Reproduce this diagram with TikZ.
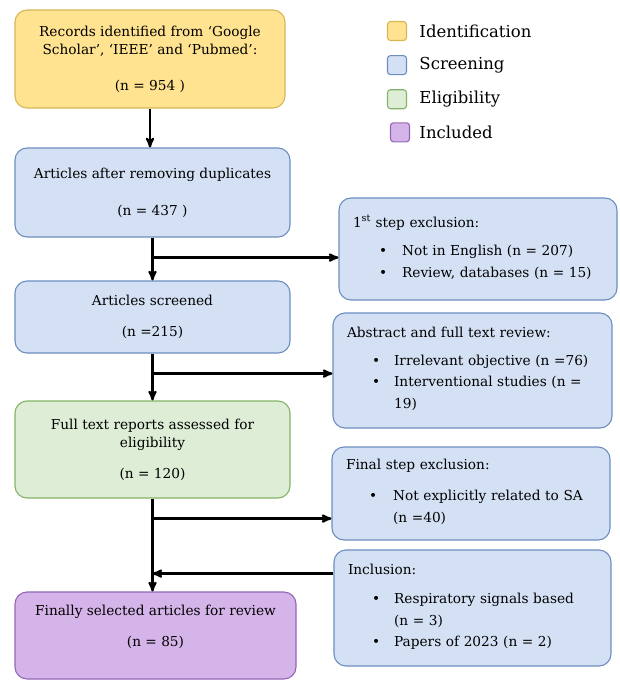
\documentclass[tikz,border=0pt]{standalone}
\usepackage{fontspec}
\setmainfont{DejaVu Serif}
\usepackage{tikz}
\usetikzlibrary{positioning}
\usetikzlibrary{arrows}
\usetikzlibrary{calc}

\definecolor{idfill}{HTML}{FFE390}
\definecolor{iddraw}{HTML}{D6B656}
\definecolor{scfill}{HTML}{D4E1F5}
\definecolor{scdraw}{HTML}{6C8EBF}
\definecolor{elfill}{HTML}{DDEDD6}
\definecolor{eldraw}{HTML}{82B366}
\definecolor{infill}{HTML}{D5B4EA}
\definecolor{indraw}{HTML}{9467B5}

\newcommand{\bul}{\textbullet}

\begin{document}
\begin{tikzpicture}[x=1pt,y=-1pt,>=stealth',line width=2.2pt,
	box/.style={rounded corners=12pt,line width=1.1pt,align=center,inner sep=4pt,font=\rmfamily\fontsize{13.7}{18}\selectfont},
	side/.style={box,align=left,inner xsep=14pt,text width=#1},
	key/.style={rounded corners=3pt,line width=1.1pt,minimum size=19pt,inner sep=0pt},
	keytext/.style={anchor=west,font=\rmfamily\fontsize{16.5}{18}\selectfont},
	arr/.style={->,line width=2.2pt}]
	
	\useasboundingbox (0,0) rectangle (619,680);
	
	% main column
	\node[box,fill=idfill,draw=iddraw,minimum width=270pt,minimum height=98pt] (ident) at (150,59)
	{Records identified from `Google\\Scholar', `IEEE' and `Pubmed':\\[18pt](n = 954 )};
	\node[box,fill=scfill,draw=scdraw,minimum width=275pt,minimum height=89pt] (scr1) at (152.5,192.5)
	{Articles after removing duplicates\\[19pt](n = 437 )};
	\node[box,fill=scfill,draw=scdraw,minimum width=275pt,minimum height=72pt] (scr2) at (152.5,317)
	{Articles screened\\[13pt](n =215)};
	\node[box,fill=elfill,draw=eldraw,minimum width=275pt,minimum height=97pt] (elig) at (152.5,449.5)
	{Full text reports assessed for\\eligibility\\[13pt](n = 120)};
	\node[box,fill=infill,draw=indraw,minimum width=281pt,minimum height=87pt] (incl) at (155.5,635.5)
	{Finally selected articles for review\\[13pt](n = 85)\\[2pt]};
	
	% side boxes
	\node[side=250pt,fill=scfill,draw=scdraw,minimum height=102pt] (ex1) at (478,249)
	{1\textsuperscript{st} step exclusion:\\[12pt]
	\begin{tabular}{@{\hspace{26pt}}c@{\hspace{15pt}}l@{}}
	\bul & Not in English (n = 207)\\[3.5pt]
	\bul & Review, databases (n = 15)
	\end{tabular}};
	\node[side=251pt,fill=scfill,draw=scdraw,minimum height=115pt] (ex2) at (472.5,370.5)
	{Abstract and full text review:\\[14pt]
	\begin{tabular}{@{\hspace{25pt}}c@{\hspace{14pt}}l@{}}
	\bul & Irrelevant objective (n =76)\\[3.5pt]
	\bul & Interventional studies (n =\\[3.5pt]
	& 19)
	\end{tabular}\\[-4pt]};
	\node[side=250pt,fill=scfill,draw=scdraw,minimum height=93pt] (ex3) at (471,493.5)
	{Final step exclusion:\\[15pt]
	\begin{tabular}{@{\hspace{23pt}}c@{\hspace{16pt}}l@{}}
	\bul & Not explicitly related to SA\\[3.5pt]
	& (n =40)
	\end{tabular}};
	\node[side=249pt,fill=scfill,draw=scdraw,minimum height=116pt] (inc) at (472.5,608)
	{Inclusion:\\[16pt]
	\begin{tabular}{@{\hspace{24pt}}c@{\hspace{14pt}}l@{}}
	\bul & Respiratory signals based\\[3.5pt]
	& (n = 3)\\[3.5pt]
	\bul & Papers of 2023 (n = 2)
	\end{tabular}};
	
	% legend
	\node[key,fill=idfill,draw=iddraw] (k1) at (397,31) {};
	\node[key,fill=scfill,draw=scdraw] (k2) [below=14pt of k1] {};
	\node[key,fill=elfill,draw=eldraw] (k3) [below=14pt of k2] {};
	\node[key,fill=infill,draw=indraw] (k4) [below=13pt of k3,xshift=3pt] {};
	\node[keytext] (t1) at ($(k1.east)+(8,0)$) {Identification};
	\node[keytext] (t2) at ($(k2.east)+(8,0)$) {Screening};
	\node[keytext] (t3) at ($(k3.east)+(8,0)$) {Eligibility};
	\node[keytext] (t4) at ($(k4.east)+(5,0)$) {Included};
	
	% connectors
	\coordinate (b1) at ($(scr1.south)+(0,20)$);
	\coordinate (b2) at ($(scr2.south)+(0,20)$);
	\coordinate (b3) at ($(elig.south)+(0,20)$);
	\coordinate (b4) at ($(elig.south)+(0,75)$);
	\draw[arr] (ident.south) -- (ident.south |- scr1.north);
	\draw[arr] (scr1.south) -- (scr2.north);
	\draw[arr] (b1) -- (b1 -| ex1.west);
	\draw[arr] (scr2.south) -- (elig.north);
	\draw[arr] (b2) -- (b2 -| ex2.west);
	\draw[arr] (elig.south) -- (elig.south |- incl.north);
	\draw[arr] (b3) -- (b3 -| ex3.west);
	\draw[arr] (b4 -| inc.west) -- (b4);
\end{tikzpicture}
\end{document}
